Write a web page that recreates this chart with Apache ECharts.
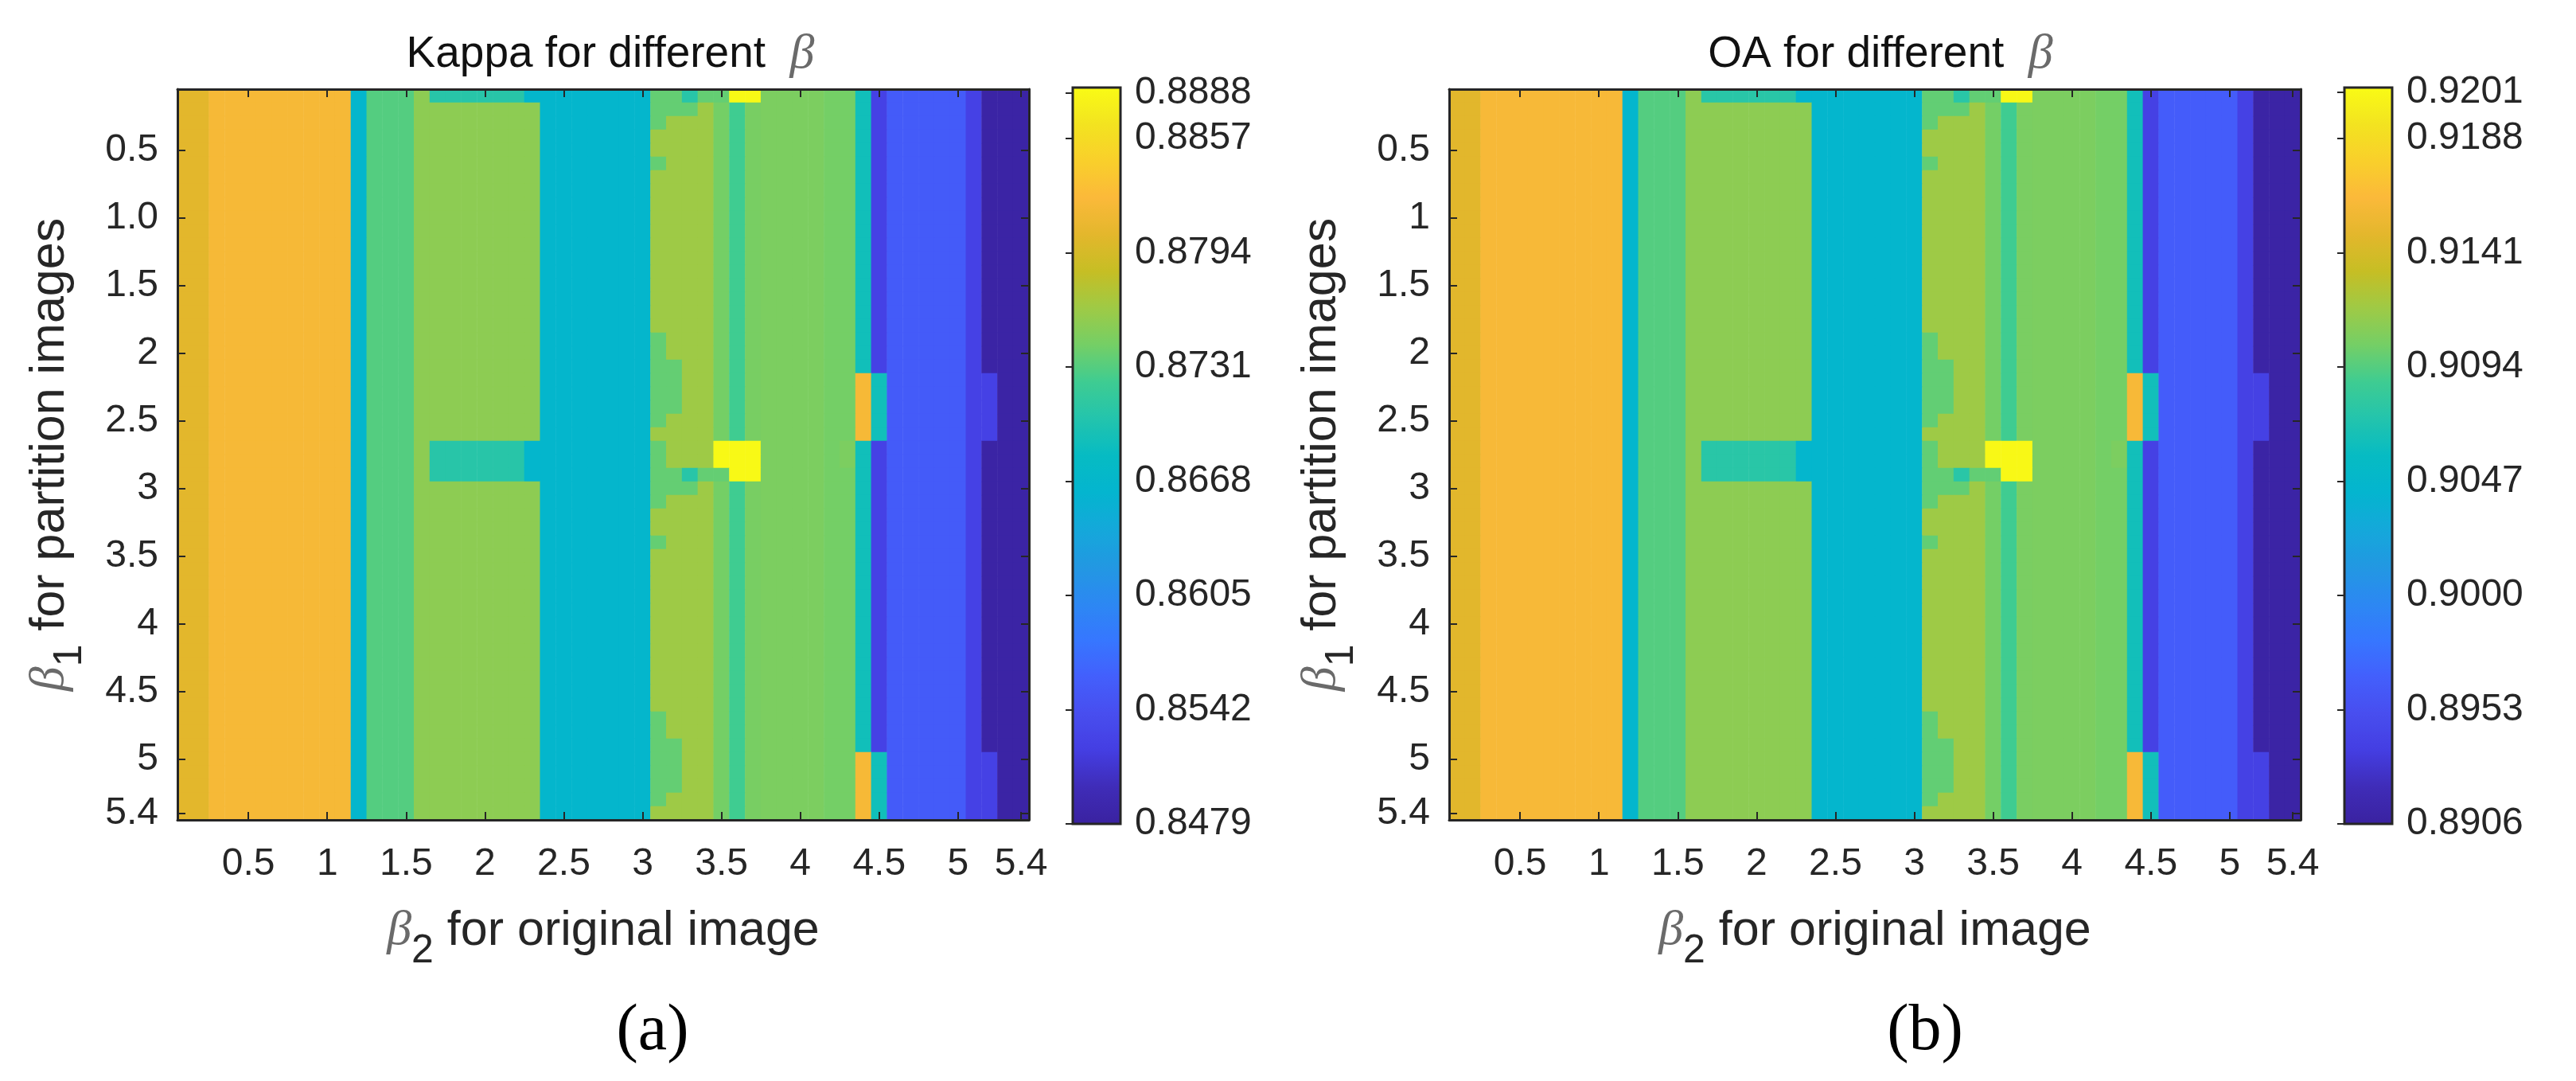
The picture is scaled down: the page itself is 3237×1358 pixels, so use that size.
<!DOCTYPE html>
<html>
<head>
<meta charset="utf-8">
<title>Kappa and OA for different beta</title>
<script src="https://cdn.jsdelivr.net/npm/echarts@6/dist/echarts.min.js"></script>
<style>
  html, body { margin: 0; padding: 0; background: #fff; }
  #main { width: 3237px; height: 1358px; }
</style>
</head>
<body>
<div id="main"></div>
<script>
// beta values on both axes, cell centres
const betaSteps = [
  '0.1','0.2','0.3','0.4','0.5','0.6','0.7','0.8','0.9','1.0',
  '1.1','1.2','1.3','1.4','1.5','1.6','1.7','1.8','1.9','2.0',
  '2.1','2.2','2.3','2.4','2.5','2.6','2.7','2.8','2.9','3.0',
  '3.1','3.2','3.3','3.4','3.5','3.6','3.7','3.8','3.9','4.0',
  '4.1','4.2','4.3','4.4','4.5','4.6','4.7','4.8','4.9','5.0',
  '5.1','5.2','5.3','5.4'
];
const tickSteps = ['0.5','1.0','1.5','2.0','2.5','3.0','3.5','4.0','4.5','5.0','5.4'];
const xTickLabels = ['0.5','1','1.5','2','2.5','3','3.5','4','4.5','5','5.4'];
const kappaYTickLabels = ['0.5','1.0','1.5','2','2.5','3','3.5','4','4.5','5','5.4'];
const oaYTickLabels = ['0.5','1','1.5','2','2.5','3','3.5','4','4.5','5','5.4'];

// values, one per colour level seen in the maps
const kappaLevels = {
  M: 0.8804, O: 0.8820, C: 0.8666, G: 0.8731, L: 0.8755, Y: 0.8763,
  H: 0.8743, S: 0.8723, A: 0.8745, K: 0.8747, T: 0.8690, I: 0.8524,
  B: 0.8556, D: 0.8483, R: 0.8737, W: 0.8706, X: 0.8883
};
const oaLevels = {
  M: 0.9148, O: 0.9161, C: 0.9045, G: 0.9094, L: 0.9112, Y: 0.9118,
  H: 0.9103, S: 0.9088, A: 0.9105, K: 0.9106, T: 0.9064, I: 0.8939,
  B: 0.8964, D: 0.8909, R: 0.9098, W: 0.9076, X: 0.9207
};

// the row shapes that occur, one letter per beta2 column
const plain   = 'MMOOOOOOOOOCGGGLLLLLLLLCCCCCCCYYYYHSAKKKKHHTIBBBBBIDDD';
const edge1   = 'MMOOOOOOOOOCGGGLLLLLLLLCCCCCCCRYYYHSAKKKKHHTIBBBBBIDDD';
const edge2   = 'MMOOOOOOOOOCGGGLLLLLLLLCCCCCCCRRYYHSAKKKKHHTIBBBBBIDDD';
const edge3   = 'MMOOOOOOOOOCGGGLLLLLLLLCCCCCCCRRRYHSAKKKKHHTIBBBBBIDDD';
const peakTop = 'MMOOOOOOOOOCGGGLWWWWWWCCCCCCCCRRWRRXXKKKKHHTIBBBBBIDDD';
const peakMid = 'MMOOOOOOOOOCGGGLWWWWWWCCCCCCCCRYYYXXXKKKKHKTIBBBBBIDDD';
const plainO  = 'MMOOOOOOOOOCGGGLLLLLLLLCCCCCCCYYYYHSAKKKKHHOTBBBBBIIDD';
const edge1O  = 'MMOOOOOOOOOCGGGLLLLLLLLCCCCCCCRYYYHSAKKKKHHOTBBBBBIIDD';
const edge2O  = 'MMOOOOOOOOOCGGGLLLLLLLLCCCCCCCRRYYHSAKKKKHHOTBBBBBIIDD';

// beta1 rows from top to bottom
const rowOrder = [
  peakTop, edge3, edge1, plain, plain, edge1,
  plain, plain, plain, plain, plain, plain, plain, plain, plain, plain, plain, plain,
  edge1, edge1, edge2, edge2O, edge2O, edge2O, edge1O, plainO,
  peakMid, peakMid, peakTop, edge3, edge1, plain, plain, edge1,
  plain, plain, plain, plain, plain, plain, plain, plain, plain, plain, plain, plain,
  edge1, edge1, edge2, edge2O, edge2O, edge2O, edge1O, plainO
];

// colorbar ticks: the top tick sits a little under the end of the bar
const kappaBarTicks = [0.8479, 0.8542, 0.8605, 0.8668, 0.8731, 0.8794, 0.8857, 0.8882];
const kappaBarLabels = ['0.8479','0.8542','0.8605','0.8668','0.8731','0.8794','0.8857','0.8888'];
const oaBarTicks = [0.8906, 0.8953, 0.9000, 0.9047, 0.9094, 0.9141, 0.9188, 0.9207];
const oaBarLabels = ['0.8906','0.8953','0.9000','0.9047','0.9094','0.9141','0.9188','0.9201'];
const kappaRange = [0.8479, 0.8885];
const oaRange = [0.8906, 0.9209];

const parulaStops = [
  '#3A22A0','#3F2CB8','#443EE2','#484EEF','#435FFC','#3677FF','#2C88F2',
  '#2298E2','#14A8DA','#04B5CF','#06BBC3','#23C4AD','#3ECC92','#74CF66',
  '#9ECA46','#C6BE24','#E3B72C','#FBB93A','#F9CF2B','#F3E320','#F9FB15'
];

const ink = '#262626';
const sans = '"Liberation Sans", Arial, sans-serif';
const serif = '"Liberation Serif", "Times New Roman", serif';
const tickIndex = tickSteps.map(s => betaSteps.indexOf(s));
const onTick = index => tickIndex.includes(index);

function cells(levels) {
  const out = [];
  rowOrder.forEach((row, y) => {
    for (let x = 0; x < row.length; x++) out.push([x, y, levels[row[x]]]);
  });
  return out;
}

const betaRich = {
  b: { fontFamily: serif, fontStyle: 'italic', fontSize: 62, color: '#6a6a6a' },
  s: { fontFamily: sans, fontSize: 50, color: ink, padding: [50, 0, 0, 0] }
};

function tickLine() {
  return { show: true, inside: true, length: 10, alignWithLabel: true, interval: onTick,
    lineStyle: { color: ink, width: 2 } };
}
const frameLine = { show: true, onZero: false, lineStyle: { color: ink, width: 3 } };

function catAxis(position, gridIndex, inverse, labels, name) {
  const axis = {
    type: 'category', gridIndex, position, inverse, data: betaSteps, z: 5,
    axisLine: frameLine, axisTick: tickLine(), splitLine: { show: false },
    axisLabel: { show: false }
  };
  if (labels) {
    axis.axisLabel = {
      show: true, interval: onTick, color: ink, fontFamily: sans, fontSize: 48,
      margin: position === 'left' ? 24 : 32,
      formatter: (v, i) => labels[tickIndex.indexOf(i)]
    };
    axis.name = name;
    axis.nameLocation = 'middle';
    axis.nameTextStyle = { color: ink, fontFamily: sans, fontSize: 61, rich: betaRich };
    axis.nameGap = position === 'left' ? 110 : 90;
    if (position === 'left') axis.nameRotate = 90;
  }
  return axis;
}

function barAxis(gridIndex, range, ticks, labels) {
  return {
    type: 'value', gridIndex, position: 'right', min: range[0], max: range[1], z: 6,
    axisLine: { show: false }, splitLine: { show: false },
    axisTick: { show: true, inside: true, length: 9, customValues: ticks,
      lineStyle: { color: ink, width: 2 } },
    axisLabel: { show: true, customValues: ticks, margin: 18, color: ink, fontFamily: sans, fontSize: 48,
      padding: [8, 0, 0, 0], showMinLabel: true, showMaxLabel: true,
      formatter: v => labels[ticks.indexOf(v)] }
  };
}

// panel rectangles in page pixels, 54 rows of 17 px
const plots = [
  { left: 223, top: 112, width: 1070, height: 918 },
  { left: 1821, top: 112, width: 1070, height: 918 }
];
const bars = [
  { left: 1348, top: 110, width: 60, height: 925 },
  { left: 2946, top: 110, width: 60, height: 925 }
];

const yName = '{b|β}{s|1} for partition images';
const xName = '{b|β}{s|2} for original image';

const option = {
  animation: false,
  backgroundColor: '#fff',
  title: [
    { text: 'Kappa for different  {b|β}', left: 762, top: 33, textAlign: 'center',
      textStyle: { color: '#111', fontFamily: sans, fontWeight: 'normal', fontSize: 55, rich: betaRich } },
    { text: 'OA for different  {b|β}', left: 2358, top: 33, textAlign: 'center',
      textStyle: { color: '#111', fontFamily: sans, fontWeight: 'normal', fontSize: 55, rich: betaRich } },
    { text: '(a)', left: 815, top: 1250, textAlign: 'center',
      textStyle: { color: '#000', fontFamily: serif, fontWeight: 'normal', fontSize: 82 } },
    { text: '(b)', left: 2414, top: 1250, textAlign: 'center',
      textStyle: { color: '#000', fontFamily: serif, fontWeight: 'normal', fontSize: 82 } }
  ],
  grid: [
    Object.assign({ containLabel: false }, plots[0]),
    Object.assign({ containLabel: false }, plots[1]),
    Object.assign({ containLabel: false, show: true, z: 6, borderColor: ink, borderWidth: 3, backgroundColor: 'transparent' }, bars[0]),
    Object.assign({ containLabel: false, show: true, z: 6, borderColor: ink, borderWidth: 3, backgroundColor: 'transparent' }, bars[1])
  ],
  xAxis: [
    catAxis('bottom', 0, false, xTickLabels, xName),
    catAxis('top', 0, false),
    catAxis('bottom', 1, false, xTickLabels, xName),
    catAxis('top', 1, false),
    { type: 'value', gridIndex: 2, show: false },
    { type: 'value', gridIndex: 3, show: false }
  ],
  yAxis: [
    catAxis('left', 0, true, kappaYTickLabels, yName),
    catAxis('right', 0, true),
    catAxis('left', 1, true, oaYTickLabels, yName),
    catAxis('right', 1, true),
    barAxis(2, kappaRange, kappaBarTicks, kappaBarLabels),
    barAxis(3, oaRange, oaBarTicks, oaBarLabels)
  ],
  visualMap: [
    { type: 'continuous', seriesIndex: 0, min: kappaRange[0], max: kappaRange[1], calculable: false,
      showLabel: false, hoverLink: false, padding: 0, orient: 'vertical', itemWidth: bars[0].width, itemHeight: bars[0].height,
      left: bars[0].left, top: bars[0].top, inRange: { color: parulaStops } },
    { type: 'continuous', seriesIndex: 1, min: oaRange[0], max: oaRange[1], calculable: false,
      showLabel: false, hoverLink: false, padding: 0, orient: 'vertical', itemWidth: bars[1].width, itemHeight: bars[1].height,
      left: bars[1].left, top: bars[1].top, inRange: { color: parulaStops } }
  ],
  series: [
    { type: 'heatmap', xAxisIndex: 0, yAxisIndex: 0, data: cells(kappaLevels), progressive: 0 },
    { type: 'heatmap', xAxisIndex: 2, yAxisIndex: 2, data: cells(oaLevels), progressive: 0 }
  ]
};

const myChart = echarts.init(document.getElementById('main'), null, { renderer: 'canvas' });
myChart.setOption(option);
</script>
</body>
</html>
